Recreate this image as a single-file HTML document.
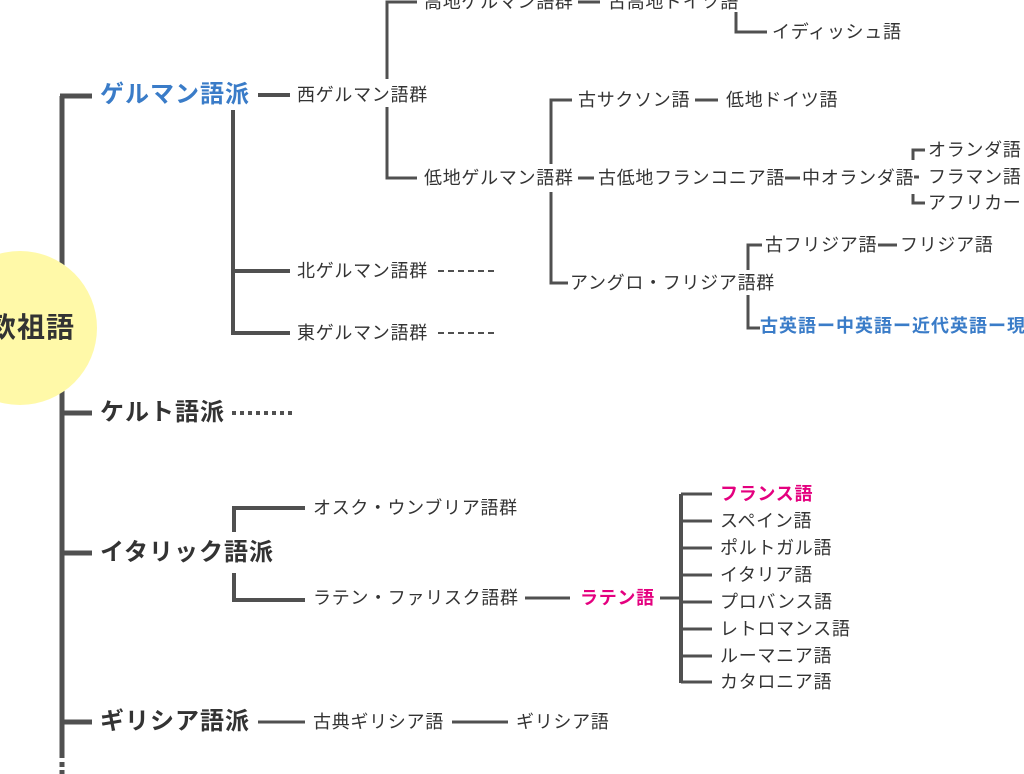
<!DOCTYPE html>
<html><head><meta charset="utf-8"><style>
html,body{margin:0;padding:0;width:1024px;height:774px;overflow:hidden;background:#fff;}
.t{position:absolute;white-space:nowrap;font-family:"Liberation Sans","Noto Sans CJK JP",sans-serif;color:#333;font-size:18px;letter-spacing:0.7px;line-height:22px;transform:translateY(-50%);}
.b{font-weight:bold;font-size:24px;letter-spacing:1px;line-height:28px;color:#333;}
.blue{color:#3a7cc8;}
.pink{color:#e4007f;font-weight:bold;}
svg{position:absolute;left:0;top:0;}
</style></head><body>
<svg width="1024" height="774">
<g stroke="#505050" fill="none" stroke-linecap="butt">
<path d="M62 96 V758" stroke-width="5"/>
<path d="M62 762 V767 M62 770 V774" stroke-width="5"/>
<path d="M60 96 H92 M62 413 H92 M62 553 H92 M62 722 H92" stroke-width="5"/>
<path d="M258 95 H290" stroke-width="4"/>
<path d="M233 110 V333 H290 M233 271 H290" stroke-width="4"/>
<path d="M438 271 H498 M438 333 H498" stroke-width="2" stroke-dasharray="6 4"/>
<path d="M232 413 H292" stroke-width="4" stroke-dasharray="4 4"/>
<path d="M417 2 H387 V79 M387 107 V178 H417" stroke-width="3"/>
<path d="M578 2 H600" stroke-width="3"/>
<path d="M736 12 V32 H767" stroke-width="3"/>
<path d="M578 178 H594 M785 178 H800 M914 177 H919" stroke-width="3"/>
<path d="M925 150 H913 V160 M913 194 V203 H925" stroke-width="3"/>
<path d="M572 100 H551 V164 M551 192 V283 H568" stroke-width="3"/>
<path d="M695 100 H718" stroke-width="3"/>
<path d="M762 245 H748 V270 M748 295 V328 H760" stroke-width="3"/>
<path d="M878 245 H897" stroke-width="3"/>
<path d="M234 532 V508 H305 M234 573 V600 H305" stroke-width="4"/>
<path d="M525 598 H570 M660 598 H680" stroke-width="3"/>
<path d="M681 494 V683" stroke-width="4"/>
<path d="M681 494 H712 M681 521 H712 M681 548 H712 M681 575 H712 M681 602 H712 M681 629 H712 M681 656 H712 M681 682 H712" stroke-width="3"/>
<path d="M258 722 H305 M452 722 H508" stroke-width="3"/>
</g>
<circle cx="20" cy="328" r="77" fill="#fff9a8"/>
</svg>
<div class="t b" style="left:-12px;top:328px;font-size:28px;">欧祖語</div>
<div class="t b blue" style="left:100px;top:95px;">ゲルマン語派</div>
<div class="t b" style="left:100px;top:413px;">ケルト語派</div>
<div class="t b" style="left:100px;top:553px;">イタリック語派</div>
<div class="t b" style="left:100px;top:722px;">ギリシア語派</div>

<div class="t" style="left:297px;top:95px;">西ゲルマン語群</div>
<div class="t" style="left:297px;top:271px;">北ゲルマン語群</div>
<div class="t" style="left:297px;top:333px;">東ゲルマン語群</div>
<div class="t" style="left:424px;top:2px;">高地ゲルマン語群</div>
<div class="t" style="left:608px;top:2px;">古高地ドイツ語</div>
<div class="t" style="left:772px;top:32px;">イディッシュ語</div>
<div class="t" style="left:424px;top:178px;">低地ゲルマン語群</div>
<div class="t" style="left:578px;top:100px;">古サクソン語</div>
<div class="t" style="left:726px;top:100px;">低地ドイツ語</div>
<div class="t" style="left:598px;top:178px;">古低地フランコニア語</div>
<div class="t" style="left:802px;top:178px;">中オランダ語</div>
<div class="t" style="left:928px;top:150px;">オランダ語</div>
<div class="t" style="left:928px;top:177px;">フラマン語</div>
<div class="t" style="left:928px;top:203px;">アフリカー</div>
<div class="t" style="left:570px;top:283px;">アングロ・フリジア語群</div>
<div class="t" style="left:765px;top:245px;">古フリジア語</div>
<div class="t" style="left:900px;top:245px;">フリジア語</div>
<div class="t" style="left:760px;top:326px;font-weight:bold;color:#3a7cc8;letter-spacing:1px;">古英語ー中英語ー近代英語ー現</div>

<div class="t" style="left:313px;top:508px;">オスク・ウンブリア語群</div>
<div class="t" style="left:313px;top:598px;">ラテン・ファリスク語群</div>
<div class="t pink" style="left:580px;top:598px;">ラテン語</div>
<div class="t pink" style="left:720px;top:494px;">フランス語</div>
<div class="t" style="left:720px;top:521px;">スペイン語</div>
<div class="t" style="left:720px;top:548px;">ポルトガル語</div>
<div class="t" style="left:720px;top:575px;">イタリア語</div>
<div class="t" style="left:720px;top:602px;">プロバンス語</div>
<div class="t" style="left:720px;top:629px;">レトロマンス語</div>
<div class="t" style="left:720px;top:656px;">ルーマニア語</div>
<div class="t" style="left:720px;top:682px;">カタロニア語</div>

<div class="t" style="left:313px;top:722px;">古典ギリシア語</div>
<div class="t" style="left:516px;top:722px;">ギリシア語</div>
</body></html>
